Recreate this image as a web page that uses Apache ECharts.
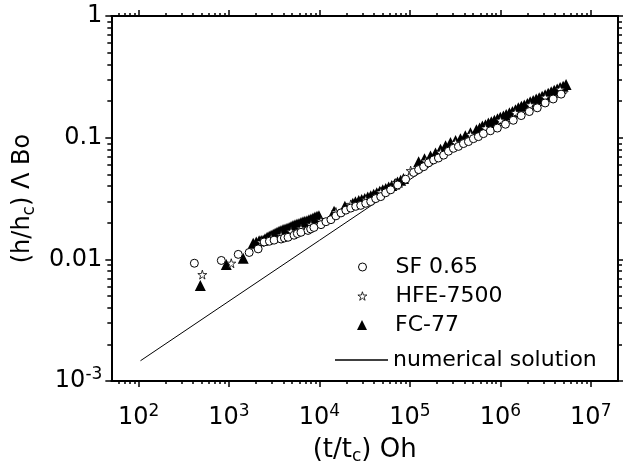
<!DOCTYPE html>
<html>
<head>
<meta charset="utf-8">
<script src="https://cdn.jsdelivr.net/npm/echarts@6/dist/echarts.min.js"></script>
<style>
  html, body { margin: 0; padding: 0; background: #fff; }
  #chart { width: 623px; height: 470px; }
</style>
</head>
<body>
<div id="chart"></div>
<script>
// tick positions
var xMajor = [1e2, 1e3, 1e4, 1e5, 1e6, 1e7];
var yMajor = [1e-3, 1e-2, 1e-1, 1];
var xMinor = [60, 70, 80, 90,
  200, 300, 400, 500, 600, 700, 800, 900,
  2e3, 3e3, 4e3, 5e3, 6e3, 7e3, 8e3, 9e3,
  2e4, 3e4, 4e4, 5e4, 6e4, 7e4, 8e4, 9e4,
  2e5, 3e5, 4e5, 5e5, 6e5, 7e5, 8e5, 9e5,
  2e6, 3e6, 4e6, 5e6, 6e6, 7e6, 8e6, 9e6];
var yMinor = [2e-3, 3e-3, 4e-3, 5e-3, 6e-3, 7e-3, 8e-3, 9e-3,
  0.02, 0.03, 0.04, 0.05, 0.06, 0.07, 0.08, 0.09,
  0.2, 0.3, 0.4, 0.5, 0.6, 0.7, 0.8, 0.9];

// SF 0.65 (open circles)
var sfData = [
  [414, 0.0093], [822, 0.0098], [1265, 0.0110], [1671, 0.0114], [2100, 0.0122],
  [2446, 0.0139], [2800, 0.0141], [3152, 0.0144], [3765, 0.0147], [4100, 0.0150],
  [4496, 0.0152], [5237, 0.0158], [5700, 0.0163], [6252, 0.0167], [7464, 0.0173],
  [8000, 0.0178], [8690, 0.0183], [1.04e4, 0.0193], [1.18e4, 0.0204], [1.34e4, 0.0212],
  [1.52e4, 0.0228], [1.73e4, 0.0241], [1.96e4, 0.0254], [2.22e4, 0.0264], [2.52e4, 0.0273],
  [2.86e4, 0.0278], [3.25e4, 0.0289], [3.69e4, 0.0299], [4.19e4, 0.0316], [4.76e4, 0.0328],
  [5.40e4, 0.0353], [6.13e4, 0.0373], [7.33e4, 0.0409], [8.97e4, 0.0456], [1.10e5, 0.0518],
  [1.25e5, 0.0547], [1.42e5, 0.0578], [1.61e5, 0.0622], [1.83e5, 0.0657], [2.07e5, 0.0681],
  [2.36e5, 0.0719], [2.67e5, 0.0774], [3.03e5, 0.0818], [3.44e5, 0.0848], [3.91e5, 0.0895],
  [4.44e5, 0.0929], [5.04e5, 0.0982], [5.72e5, 0.102], [6.50e5, 0.108], [7.76e5, 0.114],
  [9.27e5, 0.120], [1.14e6, 0.129], [1.39e6, 0.139], [1.70e6, 0.152], [2.09e6, 0.164],
  [2.56e6, 0.176], [3.13e6, 0.193], [3.84e6, 0.208], [4.70e6, 0.228]
];

// HFE-7500 (open stars)
var hfeData = [
  [507, 0.0075], [1059, 0.0093], [2266, 0.0139], [2924, 0.0150], [3765, 0.0158],
  [4853, 0.0170], [6252, 0.0180], [8054, 0.0193], [1.04e4, 0.0208], [1.52e4, 0.0245],
  [2.22e4, 0.0283], [3.25e4, 0.0310], [4.76e4, 0.0358], [6.97e4, 0.0424], [1.02e5, 0.0536],
  [1.49e5, 0.0642], [2.18e5, 0.0758], [3.19e5, 0.0912], [4.67e5, 0.106], [6.84e5, 0.120],
  [1.0e6, 0.139], [1.46e6, 0.161], [2.14e6, 0.186], [3.13e6, 0.215], [4.58e6, 0.250]
];

// FC-77 (filled triangles)
var fcData = [
  [482, 0.0061], [933, 0.0091], [1436, 0.0102], [1851, 0.0136], [2000, 0.0139],
  [2153, 0.0142], [2270, 0.0143], [2384, 0.0144], [2500, 0.0148], [2638, 0.0152],
  [2780, 0.0155], [2924, 0.0158], [3080, 0.0161], [3234, 0.0164], [3400, 0.0167],
  [3577, 0.0170], [3760, 0.0173], [3962, 0.0176], [4170, 0.0178], [4385, 0.0180],
  [4620, 0.0183], [4853, 0.0186], [5100, 0.0190], [5370, 0.0193], [5650, 0.0195],
  [5943, 0.0197], [6250, 0.0201], [6577, 0.0204], [6900, 0.0206], [7278, 0.0208],
  [7650, 0.0212], [8054, 0.0215], [8480, 0.0219], [8913, 0.0223], [9400, 0.0226],
  [9866, 0.0228], [1.45e4, 0.0249], [1.91e4, 0.0273], [2.34e4, 0.0289], [2.50e4, 0.0297],
  [2.72e4, 0.0305], [2.93e4, 0.0310], [3.17e4, 0.0316], [3.42e4, 0.0325], [3.69e4, 0.0334],
  [3.98e4, 0.0343], [4.30e4, 0.0353], [4.64e4, 0.0363], [5.01e4, 0.0373], [5.41e4, 0.0383],
  [5.83e4, 0.0394], [6.30e4, 0.0405], [6.79e4, 0.0416], [7.30e4, 0.0432], [7.91e4, 0.0448],
  [8.50e4, 0.0462], [1.25e5, 0.0634], [1.45e5, 0.0670], [1.69e5, 0.0707], [1.92e5, 0.0750],
  [2.18e5, 0.0804], [2.48e5, 0.0860], [2.81e5, 0.0912], [3.20e5, 0.0950], [3.62e5, 0.0982],
  [4.10e5, 0.104], [4.67e5, 0.110], [5.44e5, 0.116], [5.90e5, 0.120], [6.33e5, 0.125],
  [6.85e5, 0.128], [7.37e5, 0.132], [7.95e5, 0.135], [8.59e5, 0.139], [9.30e5, 0.143],
  [1.0e6, 0.147], [1.08e6, 0.151], [1.16e6, 0.155], [1.26e6, 0.160], [1.36e6, 0.164],
  [1.47e6, 0.170], [1.58e6, 0.176], [1.71e6, 0.181], [1.84e6, 0.186], [1.99e6, 0.191],
  [2.14e6, 0.197], [2.31e6, 0.202], [2.49e6, 0.208], [2.69e6, 0.213], [2.90e6, 0.219],
  [3.13e6, 0.225], [3.38e6, 0.232], [3.65e6, 0.238], [3.94e6, 0.245], [4.25e6, 0.251],
  [4.58e6, 0.258], [4.95e6, 0.265], [5.33e6, 0.273]
];

// numerical solution
var numData = [
  [105, 0.00147], [1e3, 0.00454], [1e4, 0.01434], [1e5, 0.0453], [3e5, 0.078],
  [1e6, 0.125], [2e6, 0.160], [4e6, 0.210], [5.5e6, 0.235]
];

var font = 'DejaVu Sans, sans-serif';
var starPath = 'path://M50,0 L61,35 L98,35 L68,57 L79,91 L50,70 L21,91 L32,57 L2,35 L39,35 Z';

var richLabel = {
  b: { fontSize: 24, fontFamily: font, color: '#000', lineHeight: 30 },
  s: { fontSize: 17, fontFamily: font, color: '#000', lineHeight: 17, verticalAlign: 'top' }
};
var subRich = { sub: { fontSize: 17, fontFamily: font, color: '#000', lineHeight: 14, verticalAlign: 'bottom' } };

function xLabel(v) {
  var e = Math.round(Math.log10(v));
  return '{b|10}{s|' + e + '}';
}
function yLabel(v) {
  var e = Math.round(Math.log10(v));
  if (e <= -3) return '{b|10}{s|' + e + '}';
  return '{b|' + Math.pow(10, e).toFixed(Math.max(0, -e)) + '}';
}

function xAx(pos, ticks, len, showLine, labels) {
  return {
    type: 'log', logBase: 10, min: 50, max: 2e7, position: pos, gridIndex: 0,
    axisLine: { show: showLine, onZero: false, lineStyle: { color: '#000', width: 2 } },
    axisTick: { show: true, inside: false, length: len, customValues: ticks,
      lineStyle: { color: '#000', width: 1.5 } },
    axisLabel: labels ? { show: true, customValues: xMajor, formatter: xLabel, margin: 22, rich: richLabel }
                      : { show: false },
    splitLine: { show: false }
  };
}
function yAx(pos, ticks, len, showLine, labels) {
  return {
    type: 'log', logBase: 10, min: 1e-3, max: 1, position: pos, gridIndex: 0,
    axisLine: { show: showLine, onZero: false, lineStyle: { color: '#000', width: 2 } },
    axisTick: { show: true, inside: false, length: len, customValues: ticks,
      lineStyle: { color: '#000', width: 1.5 } },
    axisLabel: labels ? { show: true, customValues: yMajor, formatter: yLabel, margin: 9, rich: richLabel }
                      : { show: false },
    splitLine: { show: false }
  };
}

var xMain = xAx('bottom', xMajor, 6, true, true);
xMain.name = '(t/t{sub|c}) Oh';
xMain.nameLocation = 'middle';
xMain.nameGap = 49;
xMain.nameTextStyle = { fontSize: 26, fontFamily: font, color: '#000', lineHeight: 30, rich: subRich };

var yMain = yAx('left', yMajor, 6, true, true);
yMain.name = '(h/h{sub|c}) \u039B Bo';
yMain.nameLocation = 'middle';
yMain.nameGap = 70;
yMain.nameRotate = 90;
yMain.nameTextStyle = { fontSize: 24, fontFamily: font, color: '#000', lineHeight: 30, rich: subRich };

function leg(name, icon, style, size, top) {
  return { data: [{ name: name, icon: icon, itemStyle: style }], left: 362 - size / 2, top: top,
    itemWidth: size, itemHeight: size, selectedMode: false, padding: 0,
    textStyle: { fontSize: 22, fontFamily: font, color: '#000', lineHeight: 26,
      padding: [0, 0, 0, 395 - (362 + size / 2) - 5] } };
}

var chart = echarts.init(document.getElementById('chart'), null, { renderer: 'canvas' });
chart.setOption({
  animation: false,
  backgroundColor: '#fff',
  grid: { left: 110, right: 5, top: 16, bottom: 76, containLabel: false },
  xAxis: [xMain, xAx('bottom', xMinor, 3, false, false),
          xAx('top', xMajor, 6, true, false), xAx('top', xMinor, 3, false, false)],
  yAxis: [yMain, yAx('left', yMinor, 4, false, false),
          yAx('right', yMajor, 6, true, false), yAx('right', yMinor, 4, false, false)],
  legend: [
    leg('SF 0.65', 'circle', { color: '#fff', borderColor: '#000', borderWidth: 1 }, 8, 254),
    leg('HFE-7500', starPath, { color: '#fff', borderColor: '#000', borderWidth: 0.8 }, 9, 283),
    leg('FC-77', 'triangle', { color: '#000', borderWidth: 0 }, 10, 312),
    { data: [{ name: 'numerical solution', icon: 'rect', itemStyle: { color: '#000', borderWidth: 0 } }],
      left: 335, top: 347, itemWidth: 53, itemHeight: 1.5, selectedMode: false, padding: 0,
      textStyle: { fontSize: 22, fontFamily: font, color: '#000', lineHeight: 26 } }
  ],
  series: [
    { name: 'numerical solution', type: 'line', data: numData, showSymbol: false, symbol: 'none',
      lineStyle: { color: '#000', width: 1 }, itemStyle: { color: '#000' }, z: 1 },
    { name: 'FC-77', type: 'scatter', data: fcData, symbol: 'triangle', symbolSize: 11,
      itemStyle: { color: '#000', opacity: 1 }, z: 2 },
    { name: 'HFE-7500', type: 'scatter', data: hfeData, symbol: starPath, symbolSize: 9,
      itemStyle: { color: '#fff', borderColor: '#000', borderWidth: 0.8, opacity: 1 }, z: 3 },
    { name: 'SF 0.65', type: 'scatter', data: sfData, symbol: 'circle', symbolSize: 8,
      itemStyle: { color: '#fff', borderColor: '#000', borderWidth: 1, opacity: 1 }, z: 4 }
  ]
});
</script>
</body>
</html>
